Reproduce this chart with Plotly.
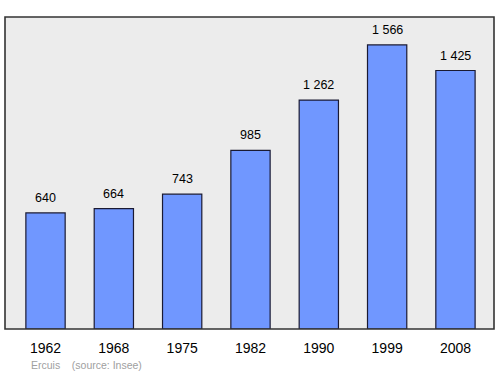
import plotly.graph_objects as go

years = ["1962", "1968", "1975", "1982", "1990", "1999", "2008"]
population = [640, 664, 743, 985, 1262, 1566, 1425]
labels = ["640", "664", "743", "985", "1 262", "1 566", "1 425"]

fig = go.Figure()
fig.add_trace(go.Bar(
    x=years, y=population, width=0.575,
    marker=dict(color="#7097ff", line=dict(color="#1a1a33", width=1.2)),
    hoverinfo="skip",
))

annotations = []
for i, (v, t) in enumerate(zip(population, labels)):
    annotations.append(dict(x=i, y=v, xref="x", yref="y", text=t, showarrow=False,
                            yanchor="bottom", yshift=6,
                            font=dict(family="Liberation Sans, Arial", size=12.5, color="#000000")))
annotations.append(dict(xref="paper", yref="paper", x=0.05, y=-0.115, xanchor="left", yanchor="middle",
                        text="Ercuis&nbsp;&nbsp;&nbsp;&nbsp;(source: Insee)", showarrow=False,
                        font=dict(family="Liberation Sans, Arial", size=10.5, color="#a0a0a0")))

fig.update_layout(
    width=500, height=374,
    margin=dict(l=5, r=6, t=17, b=45),
    plot_bgcolor="#ececec", paper_bgcolor="#ffffff",
    showlegend=False,
    annotations=annotations,
    shapes=[dict(type="rect", xref="paper", yref="paper", x0=0, y0=0, x1=1, y1=1,
                 line=dict(color="#333333", width=1.6), layer="above")],
    xaxis=dict(type="category", range=[-0.593, 6.564], showgrid=False, zeroline=False,
               showline=False, ticks="", ticklabelstandoff=9,
               tickfont=dict(family="Liberation Sans, Arial", size=14, color="#000")),
    yaxis=dict(range=[0, 1720], showgrid=False, zeroline=False, showticklabels=False, showline=False),
)
fig.write_html("out.html")
